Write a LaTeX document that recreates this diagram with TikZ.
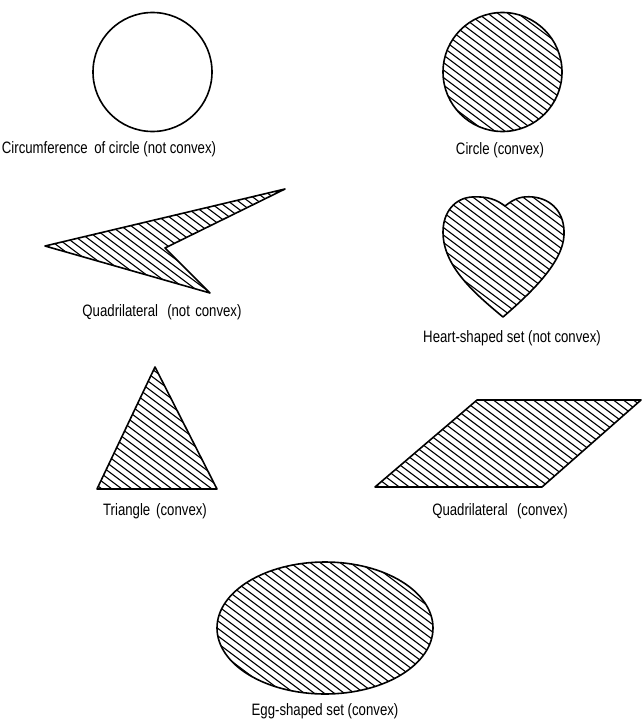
\documentclass[tikz,border=0pt]{standalone}
\usepackage{fontspec}
\usepackage{graphicx}
\setmainfont{Liberation Sans}
\tikzset{
  outline/.style={line width=1.6pt, line join=round},
  hatch/.style={line width=1.1pt},
  lbl/.style={inner sep=0pt, font=\fontsize{16.5}{18}\selectfont}
}
\newcommand{\hatchrange}[2]{%
  \foreach \k in {#1,...,#2}{%
    \pgfmathsetmacro\cc{-420+7.5*\k}%
    \draw[hatch] (0,\cc) -- (641,\cc+480.75);}}
\newcommand{\nlab}[1]{\scalebox{0.8}[1]{#1}}
\begin{document}
\begin{tikzpicture}[x=1pt,y=-1pt]
\useasboundingbox (0,0) rectangle (641,725);

% circumference of circle
\draw[outline] (152.5,72) circle [radius=59.5pt];
\node[lbl] (l1) at (109,149) {\nlab{Circumference\hspace{0.5em}of circle (not convex)}};

% circle (convex)
\begin{scope}
  \clip (502.5,72) circle [radius=59.5pt];
  \hatchrange{1}{30}
\end{scope}
\draw[outline] (502.5,72) circle [radius=59.5pt];
\node[lbl] (l2) at (500,150) {\nlab{Circle (convex)}};

% non-convex quadrilateral
\def\quadnc{(45,246) -- (285,189) -- (165,248) -- (210,293) -- cycle}
\begin{scope}
  \clip \quadnc;
  \hatchrange{52}{91}
\end{scope}
\draw[outline] \quadnc;
\node[lbl] (l3) at (162,312) {\nlab{Quadrilateral\hspace{0.7em}(not\hspace{0.4em}convex)}};

% heart
\def\heart{(505,206) .. controls (515,198) and (522,196) .. (533,197)
  .. controls (552,199) and (565,213) .. (564,235)
  .. controls (563,262) and (532,292) .. (503,317)
  .. controls (474,293) and (443,266) .. (443,232)
  .. controls (443,212) and (455,198) .. (472,197)
  .. controls (488,196) and (497,200) .. (505,206) -- cycle}
\begin{scope}
  \clip \heart;
  \hatchrange{25}{55}
\end{scope}
\draw[outline] \heart;
\node[lbl] (l4) at (512,338) {\nlab{Heart-shaped set (not convex)}};

% triangle
\def\tri{(155,367) -- (217,489) -- (97,489) -- cycle}
\begin{scope}
  \clip \tri;
  \hatchrange{83}{112}
\end{scope}
\draw[outline] \tri;
\node[lbl] (l5) at (155,511) {\nlab{Triangle\hspace{0.45em}(convex)}};

% parallelogram
\def\para{(477,400) -- (641,400) -- (542,487) -- (375,487) -- cycle}
\begin{scope}
  \clip \para;
  \hatchrange{45}{84}
\end{scope}
\draw[outline] \para;
\node[lbl] (l6) at (500,511) {\nlab{Quadrilateral\hspace{0.7em}(convex)}};

% egg
\begin{scope}
  \clip (325,628) ellipse [x radius=108pt, y radius=66pt];
  \hatchrange{87}{127}
\end{scope}
\draw[outline] (325,628) ellipse [x radius=108pt, y radius=66pt];
\node[lbl] (l7) at (325,711) {\nlab{Egg-shaped set (convex)}};
\end{tikzpicture}
\end{document}
